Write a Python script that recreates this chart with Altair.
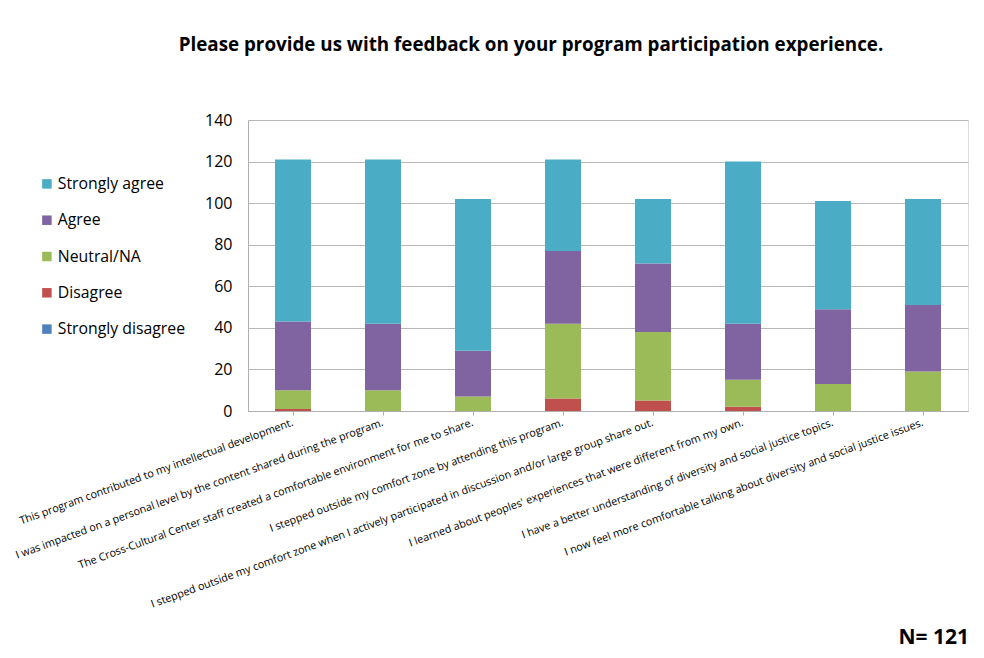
import altair as alt
import pandas as pd

title_text = "Please provide us with feedback on your program participation experience."
n_text = "N= 121"

statements = [
    "This program contributed to my intellectual development.",
    "I was impacted on a personal level by the content shared during the program.",
    "The Cross-Cultural Center staff created a comfortable environment for me to share.",
    "I stepped outside my comfort zone by attending this program.",
    "I stepped outside my comfort zone when I actively participated in discussion and/or large group share out.",
    "I learned about peoples' experiences that were different from my own.",
    "I have a better understanding of diversity and social justice topics.",
    "I now feel more comfortable talking about diversity and social justice issues.",
]

responses = ["Strongly agree", "Agree", "Neutral/NA", "Disagree", "Strongly disagree"]
colors = ["#4BACC6", "#8064A2", "#9BBB59", "#C0504D", "#4F81BD"]

strongly_disagree = [0, 0, 0, 0, 0, 0, 0, 0]
disagree = [1, 0, 0, 6, 5, 2, 0, 0]
neutral = [9, 10, 7, 36, 33, 13, 13, 19]
agree = [33, 32, 22, 35, 33, 27, 36, 32]
strongly_agree = [78, 79, 73, 44, 31, 78, 52, 51]

y_ticks = [0, 20, 40, 60, 80, 100, 120, 140]

series = {
    "Strongly disagree": strongly_disagree,
    "Disagree": disagree,
    "Neutral/NA": neutral,
    "Agree": agree,
    "Strongly agree": strongly_agree,
}
rows = []
for k, (name, vals) in enumerate(series.items()):
    for s, v in zip(statements, vals):
        rows.append({"statement": s, "response": name, "value": v, "stack": k})
df = pd.DataFrame(rows)

FONT = "Open Sans"

bars = alt.Chart(df).mark_bar().encode(
    x=alt.X("statement:N", sort=statements,
            scale=alt.Scale(paddingInner=0.6, paddingOuter=0.3),
            axis=alt.Axis(title=None, labelAngle=340, labelAlign="right",
                          labelBaseline="middle", labelFontSize=10.8,
                          labelFont=FONT, labelColor="#000000", labelLimit=0,
                          labelPadding=7, domainColor="#b0b0b0",
                          tickColor="#b0b0b0", tickSize=4, labelOverlap=False)),
    y=alt.Y("value:Q", stack="zero",
            scale=alt.Scale(domain=[0, 140], nice=False),
            axis=alt.Axis(title=None, values=y_ticks, labelFontSize=16,
                          labelFont=FONT, labelColor="#000000", labelPadding=16,
                          ticks=False, grid=True, gridColor="#b8b8b8",
                          domainColor="#b0b0b0")),
    color=alt.Color("response:N",
                    scale=alt.Scale(domain=responses, range=colors),
                    legend=alt.Legend(title=None, orient="none", legendX=-209,
                                      legendY=56, symbolType="square",
                                      symbolSize=90, symbolStrokeWidth=0,
                                      labelFontSize=15.8, labelFont=FONT,
                                      labelColor="#000000", rowPadding=19.3,
                                      labelOffset=3)),
    order=alt.Order("stack:Q", sort="ascending"),
)

title = alt.Chart(pd.DataFrame({"t": [title_text]})).mark_text(
    font=FONT, fontSize=18.8, fontWeight="bold", align="center",
    baseline="alphabetic", color="#000000"
).encode(text="t:N", x=alt.value(283), y=alt.value(-69))

nlab = alt.Chart(pd.DataFrame({"t": [n_text]})).mark_text(
    font=FONT, fontSize=21, fontWeight="bold", align="right",
    baseline="alphabetic", color="#000000"
).encode(text="t:N", x=alt.value(721), y=alt.value(524))

chart = alt.layer(bars, title, nlab).properties(
    width=720, height=291,
    autosize=alt.AutoSizeParams(type="none"),
    padding={"left": 240, "top": 112, "right": 8, "bottom": 239},
).configure_view(stroke=None).configure(background="white")

chart.save("out.html", embed_options={"renderer": "svg", "actions": False})
